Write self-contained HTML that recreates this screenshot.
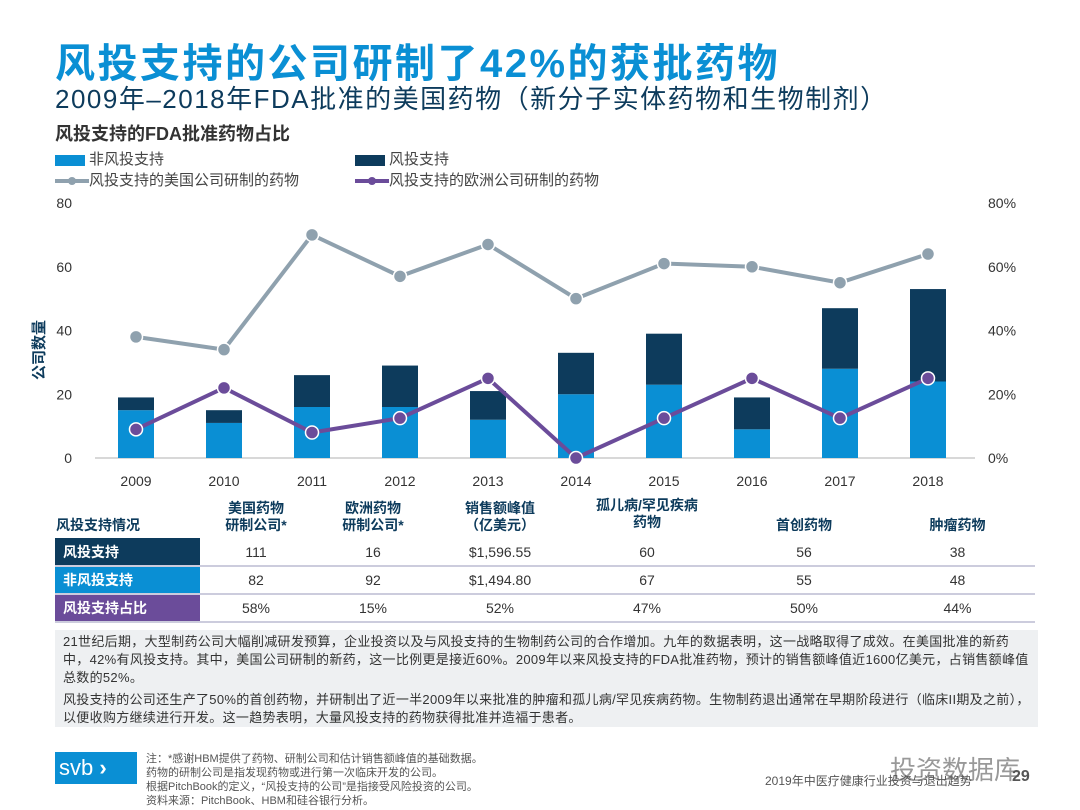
<!DOCTYPE html>
<html><head><meta charset="utf-8"><style>
body{margin:0;width:1080px;height:810px;background:#fff;position:relative;overflow:hidden;font-family:"Liberation Sans","Noto Sans CJK SC",sans-serif}
.a{position:absolute;white-space:nowrap}
table{border-collapse:collapse}
</style></head><body>
<div class="a" style="left:55px;top:31px;font-size:40px;font-weight:bold;color:#0a8fd4;letter-spacing:2.5px">风投支持的公司研制了42%的获批药物</div>
<div class="a" style="left:55px;top:79px;font-size:26px;color:#0d3b5c;letter-spacing:1.5px">2009年–2018年FDA批准的美国药物（新分子实体药物和生物制剂）</div>
<div class="a" style="left:55px;top:120px;font-size:18px;font-weight:bold;color:#333">风投支持的FDA批准药物占比</div>
<div class="a" style="left:55px;top:148px;font-size:15px;color:#444"><span style="display:inline-block;width:30px;height:11px;background:#0a8fd4;vertical-align:middle;margin-right:4px"></span>非风投支持</div>
<div class="a" style="left:355px;top:148px;font-size:15px;color:#444"><span style="display:inline-block;width:30px;height:11px;background:#0d3b5c;vertical-align:middle;margin-right:4px"></span>风投支持</div>
<div class="a" style="left:55px;top:169px;font-size:15px;color:#444"><svg width="34" height="10" style="vertical-align:middle"><line x1="0" y1="5" x2="34" y2="5" stroke="#8fa1ae" stroke-width="4"/><circle cx="17" cy="5" r="4" fill="#8fa1ae"/></svg>风投支持的美国公司研制的药物</div>
<div class="a" style="left:355px;top:169px;font-size:15px;color:#444"><svg width="34" height="10" style="vertical-align:middle"><line x1="0" y1="5" x2="34" y2="5" stroke="#6b4c9a" stroke-width="4"/><circle cx="17" cy="5" r="4" fill="#6b4c9a"/></svg>风投支持的欧洲公司研制的药物</div>
<svg id="chart" class="a" style="left:0;top:0" width="1080" height="500"></svg>
<div class="a" style="left:28px;top:380px;font-size:15px;font-weight:bold;color:#0d3b5c;transform:rotate(-90deg);transform-origin:0 0">公司数量</div>

<table class="a" style="left:55px;top:496px;width:980px;font-size:14px;color:#333">
<tr style="height:42px;font-weight:bold;color:#0d3b5c;text-align:center;font-size:14px;line-height:17px">
<td style="width:143px;text-align:left;vertical-align:bottom;padding-bottom:4px">风投支持情况</td><td style="width:110px">美国药物<br>研制公司*</td><td style="width:120px">欧洲药物<br>研制公司*</td><td style="width:130px">销售额峰值<br>（亿美元）</td><td style="width:160px;vertical-align:top">孤儿病/罕见疾病<br>药物</td><td style="width:150px;vertical-align:bottom;padding-bottom:4px">首创药物</td><td style="vertical-align:bottom;padding-bottom:4px">肿瘤药物</td></tr>
<tr style="height:28px;text-align:center;border-bottom:2px solid #ccd"><td style="background:#0d3b5c;color:#fff;font-weight:bold;text-align:left;padding-left:8px">风投支持</td><td>111</td><td>16</td><td>$1,596.55</td><td>60</td><td>56</td><td>38</td></tr>
<tr style="height:28px;text-align:center;border-bottom:2px solid #ccd"><td style="background:#0a8fd4;color:#fff;font-weight:bold;text-align:left;padding-left:8px">非风投支持</td><td>82</td><td>92</td><td>$1,494.80</td><td>67</td><td>55</td><td>48</td></tr>
<tr style="height:28px;text-align:center;border-bottom:2px solid #ccd"><td style="background:#6b4c9a;color:#fff;font-weight:bold;text-align:left;padding-left:8px">风投支持占比</td><td>58%</td><td>15%</td><td>52%</td><td>47%</td><td>50%</td><td>44%</td></tr>
</table>

<div class="a" style="left:55px;top:630px;width:967px;height:90px;padding:3px 8px 4px;background:#eef0f2;font-size:13px;line-height:18px;color:#333;white-space:normal;letter-spacing:0.3px">
21世纪后期，大型制药公司大幅削减研发预算，企业投资以及与风投支持的生物制药公司的合作增加。九年的数据表明，这一战略取得了成效。在美国批准的新药中，42%有风投支持。其中，美国公司研制的新药，这一比例更是接近60%。2009年以来风投支持的FDA批准药物，预计的销售额峰值近1600亿美元，占销售额峰值总数的52%。
<div style="margin-top:4px">风投支持的公司还生产了50%的首创药物，并研制出了近一半2009年以来批准的肿瘤和孤儿病/罕见疾病药物。生物制药退出通常在早期阶段进行（临床II期及之前），以便收购方继续进行开发。这一趋势表明，大量风投支持的药物获得批准并造福于患者。</div></div>

<div class="a" style="left:55px;top:752px;width:78px;height:32px;background:#0a8fd4;color:#fff;font-size:22px;line-height:32px;padding-left:4px">svb <span style="font-weight:bold">›</span></div>
<div class="a" style="left:146px;top:752px;font-size:11px;line-height:14px;color:#555">注：*感谢HBM提供了药物、研制公司和估计销售额峰值的基础数据。<br>药物的研制公司是指发现药物或进行第一次临床开发的公司。<br>根据PitchBook的定义，“风投支持的公司”是指接受风险投资的公司。<br>资料来源：PitchBook、HBM和硅谷银行分析。</div>
<div class="a" style="left:890px;top:750px;font-size:26px;color:#999">投资数据库</div>
<div class="a" style="left:765px;top:772px;font-size:12px;color:#555">2019年中医疗健康行业投资与退出趋势</div>
<div class="a" style="left:1012px;top:768px;font-size:16px;font-weight:bold;color:#555">29</div>

<script>
const years=['2009','2010','2011','2012','2013','2014','2015','2016','2017','2018'];
const nonVc=[15,11,16,16,12,20,23,9,28,24];
const vc=[4,4,10,13,9,13,16,10,19,29];
const usPct=[38,34,70,57,67,50,61,60,55,64];
const euPct=[9,22,8,12.5,25,0,12.5,25,12.5,25];
const leftTicks=[0,20,40,60,80];
const rightTicks=[0,20,40,60,80];
const svg=document.getElementById('chart');
const NS='http://www.w3.org/2000/svg';
const x0=136,dx=88,yB=458,yT=203;
const xs=i=>x0+i*dx;
const yL=v=>yB-(v/80)*(yB-yT);
const yR=v=>yB-(v/80)*(yB-yT);
function mk(t,a){const e=document.createElementNS(NS,t);for(const k in a)e.setAttribute(k,a[k]);svg.appendChild(e);return e;}
let ax=mk('line',{x1:95,x2:975,y1:yB,y2:yB,stroke:'#ccc','stroke-width':1.5});


leftTicks.forEach(v=>{const t=mk('text',{x:72,y:yL(v)+5,'text-anchor':'end','font-size':14,fill:'#333','font-family':'Liberation Sans'});t.textContent=v;

});
rightTicks.forEach(v=>{const t=mk('text',{x:988,y:yR(v)+5,'font-size':14,fill:'#333','font-family':'Liberation Sans'});t.textContent=v+'%';

});
years.forEach((y,i)=>{
const b1=mk('rect',{x:xs(i)-18,y:yL(nonVc[i]),width:36,height:yB-yL(nonVc[i]),fill:'#0a8fd4'});


const b2=mk('rect',{x:xs(i)-18,y:yL(nonVc[i]+vc[i]),width:36,height:yL(nonVc[i])-yL(nonVc[i]+vc[i]),fill:'#0d3b5c'});


const t=mk('text',{x:xs(i),y:486,'text-anchor':'middle','font-size':14,fill:'#333','font-family':'Liberation Sans'});t.textContent=y;


});
function line(arr,col,name,outline){
const l=mk('polyline',{points:arr.map((v,i)=>xs(i)+','+yR(v)).join(' '),fill:'none',stroke:col,'stroke-width':4});


arr.forEach((v,i)=>{const c=mk('circle',{cx:xs(i),cy:yR(v),r:6.5,fill:col,stroke:outline,'stroke-width':1.5});

});
}
line(usPct,'#8fa1ae','us-share','#fff');
line(euPct,'#6b4c9a','eu-share','#fff');
</script>
</body></html>
